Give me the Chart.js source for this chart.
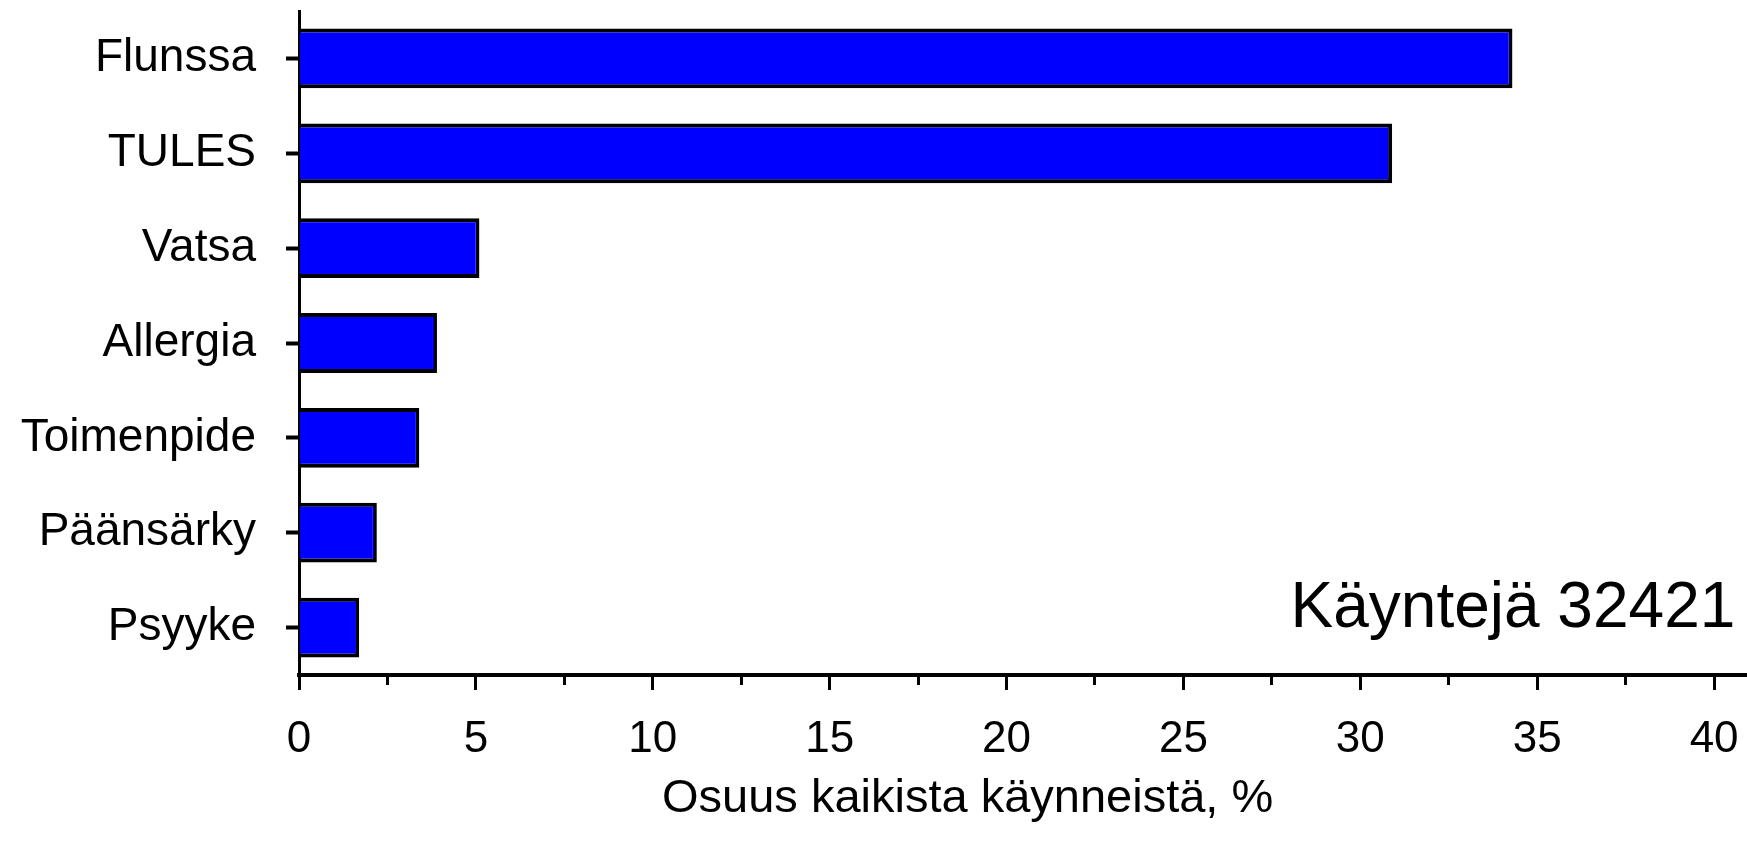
<!DOCTYPE html>
<html>
<head>
<meta charset="utf-8">
<title>Osuus kaikista käynneistä</title>
<script src="https://cdn.jsdelivr.net/npm/chart.js@4.4.1/dist/chart.umd.min.js"></script>
<style>
    html, body { margin: 0; padding: 0; background: #ffffff; }
    #Canvas-Main { display: block; }
</style>
</head>
<body>
<canvas id="Canvas-Main" width="1747" height="849"></canvas>
<script>
// Data
var categories = ['Flunssa', 'TULES', 'Vatsa', 'Allergia', 'Toimenpide', 'Päänsärky', 'Psyyke'];
var shares = [34.3, 30.9, 5.1, 3.9, 3.4, 2.2, 1.7];
var majorStep = 5;
var minorStep = 2.5;
var axisMax = 40.93; // axis line runs past 40 to the edge
var axisTitle = 'Osuus kaikista käynneistä, %';
var noteText = 'Käyntejä 32421';

var fontFamily = '"Liberation Sans", Arial, sans-serif';
var myChart;

// title + note drawn by hand so they sit where the original has them
var textPlugin = {
    id: 'textPlugin',
    afterDraw: function (chart) {
        var ctx = chart.ctx;
        var x = chart.scales.x;
        ctx.save();
        ctx.fillStyle = '#000000';
        ctx.font = '47px ' + fontFamily;
        ctx.textAlign = 'center';
        ctx.textBaseline = 'alphabetic';
        ctx.fillText(axisTitle, x.getPixelForValue(18.9), 812);

        ctx.font = '64px ' + fontFamily;
        ctx.textAlign = 'right';
        ctx.fillText(noteText, x.getPixelForValue(40.6), 627);
        ctx.restore();
    }
};

window.onload = function () {
    var ctx = document.getElementById('Canvas-Main').getContext('2d');
    myChart = new Chart(ctx, {
        type: 'bar',
        data: {
            labels: categories,
            datasets: [{
                label: 'Osuus',
                data: shares,
                backgroundColor: '#0000ff',
                borderColor: '#000000',
                borderWidth: 4,
                categoryPercentage: 1.0,
                barPercentage: 0.63
            }]
        },
        options: {
            indexAxis: 'y',
            responsive: false,
            animation: false,
            events: [],
            layout: {
                padding: { top: 11, left: 0, right: 0, bottom: 0 }
            },
            plugins: {
                legend: { display: false },
                title: { display: false },
                tooltip: { enabled: false }
            },
            scales: {
                x: {
                    type: 'linear',
                    min: 0,
                    max: axisMax,
                    afterBuildTicks: function (scale) {
                        var t = [];
                        for (var v = 0; v <= axisMax; v += minorStep) {
                            t.push({ value: v });
                        }
                        scale.ticks = t;
                    },
                    afterFit: function (scale) {
                        scale.height = 849 - 675;
                        scale.paddingLeft = 0;
                        scale.paddingRight = 0;
                    },
                    ticks: {
                        autoSkip: false,
                        maxRotation: 0,
                        padding: 23,
                        color: '#000000',
                        font: { family: fontFamily, size: 44 },
                        callback: function (value) {
                            return value % majorStep === 0 ? String(value) : '';
                        }
                    },
                    grid: {
                        display: true,
                        drawOnChartArea: false,
                        drawTicks: true,
                        tickLength: 15,
                        tickWidth: 3,
                        tickColor: '#000000',
                        tickBorderDash: function (c) {
                            return (c.tick && c.tick.value % majorStep !== 0) ? [8, 100] : [];
                        }
                    },
                    border: {
                        display: true,
                        color: '#000000',
                        width: 4
                    }
                },
                y: {
                    afterFit: function (scale) {
                        scale.width = 299;
                        scale.paddingTop = 0;
                        scale.paddingBottom = 0;
                    },
                    ticks: {
                        padding: 30,
                        color: '#000000',
                        font: { family: fontFamily, size: 46 }
                    },
                    grid: {
                        display: true,
                        offset: false,
                        drawOnChartArea: false,
                        drawTicks: true,
                        tickLength: 13,
                        tickWidth: 4,
                        tickColor: '#000000'
                    },
                    border: {
                        display: true,
                        color: '#000000',
                        width: 3
                    }
                }
            }
        },
        plugins: [textPlugin]
    });
};
</script>
</body>
</html>
